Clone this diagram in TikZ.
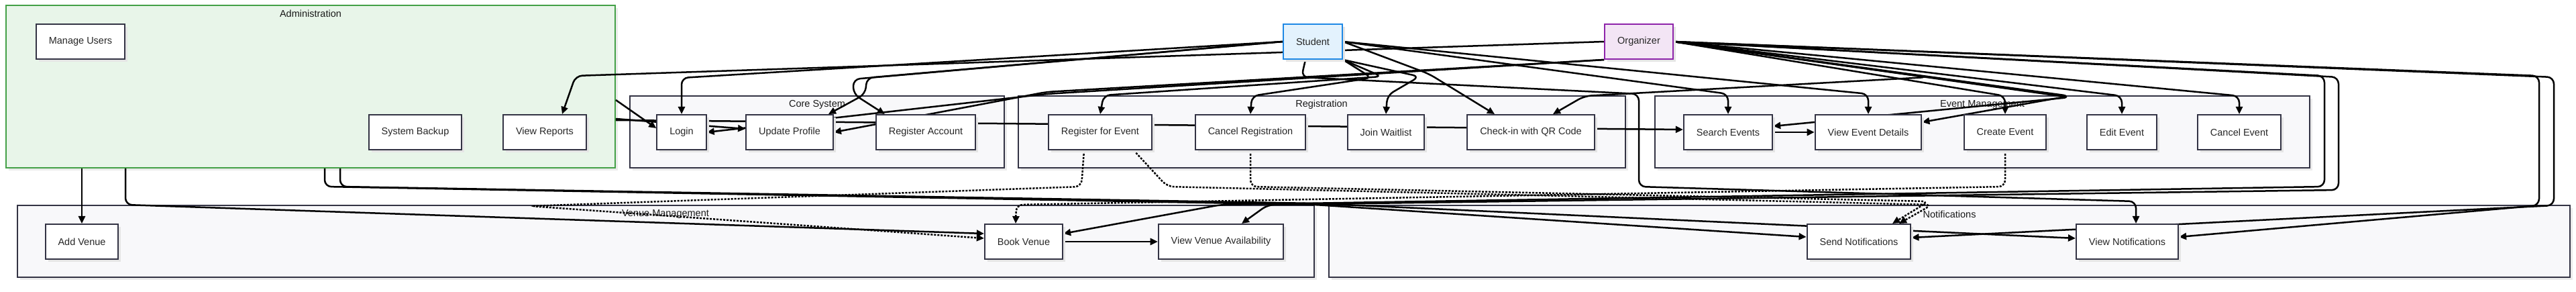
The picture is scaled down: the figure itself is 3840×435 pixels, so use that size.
\documentclass[tikz,border=0pt]{standalone}
\usepackage{fontspec}
\setmainfont{Liberation Sans}
\usetikzlibrary{arrows.meta,shadows}
\definecolor{nodeline}{HTML}{333344}
\definecolor{grpfill}{HTML}{F8F8FA}
\definecolor{admfill}{HTML}{E8F5E9}
\definecolor{admline}{HTML}{43A047}
\definecolor{stufill}{HTML}{E3F2FD}
\definecolor{stuline}{HTML}{1E88E5}
\definecolor{orgfill}{HTML}{F3E5F5}
\definecolor{orgline}{HTML}{8E24AA}
\pgfdeclarelayer{grp}
\pgfdeclarelayer{edges}
\pgfsetlayers{grp,edges,main}
\tikzset{
  box/.style={draw=nodeline,line width=2pt,fill=white,minimum height=52,inner xsep=19pt,
    font=\fontsize{14.5}{17}\selectfont,text=black!85,
    drop shadow={shadow xshift=4pt,shadow yshift=-4pt,fill=black!10,opacity=1}},
  student/.style={box,draw=stuline,fill=stufill},
  organizer/.style={box,draw=orgline,fill=orgfill},
  grp/.style={draw=nodeline,line width=2pt,fill=grpfill,inner sep=0pt,
    drop shadow={shadow xshift=4pt,shadow yshift=-4pt,fill=black!8,opacity=1}},
  gtitle/.style={font=\fontsize{14.5}{17}\selectfont,text=black!90},
  link/.style={line width=2.5pt,rounded corners=10pt,-{Triangle[length=11pt,width=10pt]}},
  dotlink/.style={link,line width=2.5pt,dash pattern=on 3pt off 2pt}
}
\begin{document}
\begin{tikzpicture}[x=1pt,y=-1pt]
  \useasboundingbox (0,0) rectangle (3840,435);

  \begin{pgfonlayer}{grp}
  \node[grp,fill=admfill,draw=admline,minimum width=908,minimum height=242] (adm) at (463,129) {};
  \node[grp,minimum width=558,minimum height=107] (core) at (1218,196.5) {};
  \node[grp,minimum width=905,minimum height=107] (regs) at (1970.5,196.5) {};
  \node[grp,minimum width=976,minimum height=107] (evm) at (2955,196.5) {};
  \node[grp,minimum width=1933,minimum height=107] (ven) at (992.5,359.5) {};
  \node[grp,minimum width=1850,minimum height=107] (ntf) at (2906,359.5) {};
  \node[gtitle] (admT) at (463,20) {Administration};
  \node[gtitle] (coreT) at (1218,156) {Core System};
  \node[gtitle] (regsT) at (1970,156) {Registration};
  \node[gtitle] (evmT) at (2955,156) {Event Management};
  \node[gtitle] (venT) at (992,319) {Venue Management};
  \node[gtitle] (ntfT) at (2906,319) {Notifications};
  \end{pgfonlayer}

  \node[box] (mu) at (120,62) {Manage Users};
  \node[box] (sb) at (619,197) {System Backup};
  \node[box] (vr) at (812,197) {View Reports};
  \node[box] (login) at (1016,197) {Login};
  \node[box] (up) at (1177,197) {Update Profile};
  \node[box] (ra) at (1380,197) {Register Account};
  \node[box] (rfe) at (1640,197) {Register for Event};
  \node[box] (cr) at (1864,197) {Cancel Registration};
  \node[box] (jw) at (2066,197) {Join Waitlist};
  \node[box] (ci) at (2282,197) {Check-in with QR Code};
  \node[box] (se) at (2576,197) {Search Events};
  \node[box] (ved) at (2785,197) {View Event Details};
  \node[box] (ce) at (2989,197) {Create Event};
  \node[box] (ee) at (3163,197) {Edit Event};
  \node[box] (cev) at (3338,197) {Cancel Event};
  \node[box] (av) at (122,360) {Add Venue};
  \node[box] (bv) at (1526,360) {Book Venue};
  \node[box] (vva) at (1820,360) {View Venue Availability};
  \node[box] (sn) at (2771,360) {Send Notifications};
  \node[box] (vn) at (3171,360) {View Notifications};
  \node[student] (stu) at (1957,62) {Student};
  \node[organizer] (org) at (2443,62) {Organizer};

  \begin{pgfonlayer}{edges}
  \draw[link] (stu.west) -- (1016,116) -- (login.north);
  \draw[link] (stu.west) -- (1292,116) -- (1290,140) -- ([xshift=-8pt]up.north east);
  \draw[link] (stu.west) -- (1272,118) -- (1272,140) -- ([xshift=14pt]ra.north west);
  \draw[link] (stu.south east) -- (2060,114) -- (1645,142) -- (rfe.north);
  \draw[link] (stu.south east) -- (2045,116) -- (1866,143) -- (cr.north);
  \draw[link] (stu.south east) -- (2116,114) -- (2068,142) -- (jw.north);
  \draw[link] (stu.east) -- (2130,110) -- ([xshift=-54pt]ci.north);
  \draw[link] (stu.east) -- (2576,140) -- (se.north);
  \draw[link] (stu.east) -- (2785,140) -- (ved.north);
  \draw[link] ([xshift=-11pt]stu.south) -- (1940,115) -- (2443,140) -- (2443,278) -- (3184,300) -- ([xshift=13pt]vn.north);

  \draw[link] (org.west) -- (858,113) -- ([xshift=26pt]vr.north);
  \draw[link] (org.south west) -- (1560,137) -- (up.east);
  \draw[link] (org.south west) -- (1560,140) -- (login.east);
  \draw[link] (org.east) -- (2873,115) -- (2362,143) -- ([xshift=33pt]ci.north);
  \draw[link] (org.east) -- (3085,143) -- ([yshift=15pt]ved.east);
  \draw[link] (org.east) -- (3085,145) -- ([yshift=9pt]se.east);
  \draw[link] (org.east) -- (2989,143) -- (ce.north);
  \draw[link] (org.east) -- (3163,143) -- (ee.north);
  \draw[link] (org.east) -- (3338,143) -- (cev.north);
  \draw[link] (org.east) -- (3465,113) -- (3465,278) -- (1820,305) -- ([yshift=12pt]bv.east);
  \draw[link] (org.east) -- (3486,115) -- (3486,283) -- (1890,305) -- ([xshift=31pt]vva.north);
  \draw[link] (org.east) -- (3785,113) -- (3785,306) -- ([yshift=7pt]vn.east);
  \draw[link] (org.east) -- (3807,115) -- (3807,306) -- ([yshift=6pt]sn.east);

  \draw[link] ([yshift=-20pt]adm.east) -- ([yshift=6pt]login.west);
  \draw[link] ([yshift=-48pt]adm.east) -- ([yshift=5pt]up.west);
  \draw[link] ([yshift=-50pt]adm.east) -- ([yshift=4pt]se.west);
  \draw[link] (av |- adm.south) -- (av.north);
  \draw[link] ([xshift=-276pt]adm.south) -- (187,305) -- ([yshift=12pt]bv.west);
  \draw[link] ([xshift=21pt]adm.south) -- (484,278) -- (1960,305) -- ([yshift=7pt]sn.west);
  \draw[link] ([xshift=44pt]adm.south) -- (507,278) -- (1960,303) -- ([yshift=5pt]vn.west);

  \draw[link] (se.east) -- (ved.west);
  \draw[link] (bv.east) -- (vva.west);

  \draw[dotlink] ([xshift=-24pt]rfe.south) -- (1612,278) -- (790,307) -- ([yshift=5pt]bv.west);
  \draw[dotlink] ([xshift=50pt]rfe.south) -- (1740,278) -- (2880,305) -- ([xshift=60pt]sn.north);
  \draw[dotlink] (cr.south) -- (1864,278) -- (2875,300) -- ([xshift=50pt]sn.north);
  \draw[dotlink] (ce.south) -- (2989,278) -- (1515,305) -- ([xshift=-12pt]bv.north);
  \end{pgfonlayer}
\end{tikzpicture}
\end{document}
